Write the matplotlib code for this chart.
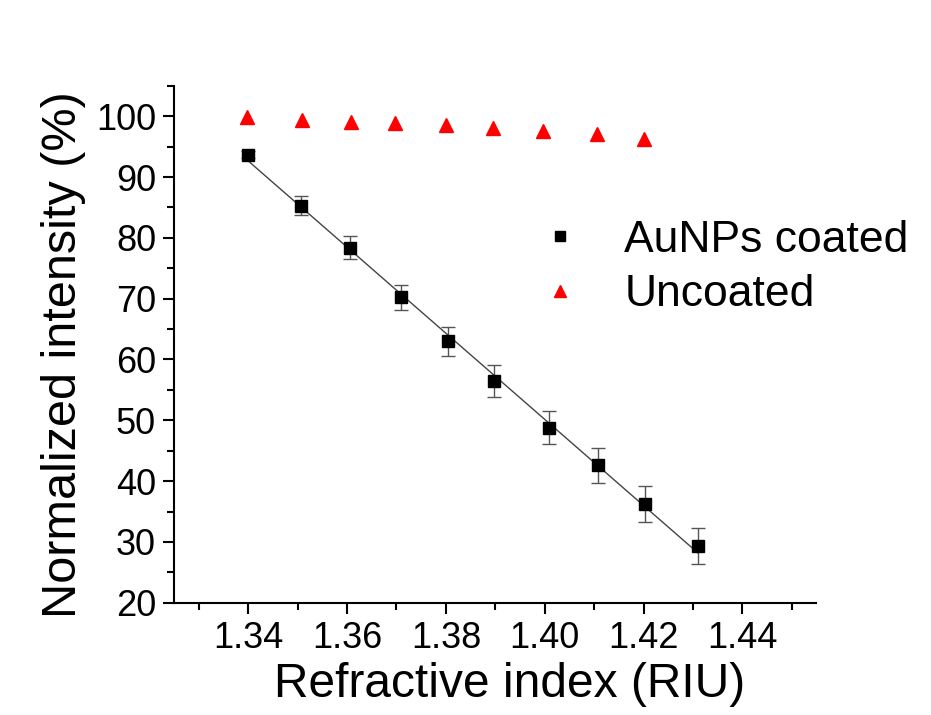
import numpy as np
import matplotlib
matplotlib.use("Agg")
import matplotlib.pyplot as plt
from matplotlib.ticker import MultipleLocator, FormatStrFormatter

plt.rcParams['font.family'] = ['Liberation Sans', 'DejaVu Sans']

# AuNPs coated fibre
ri_coated = [1.3400, 1.3507, 1.3605, 1.3710, 1.3804, 1.3898, 1.4009, 1.4107, 1.4203, 1.4310]
int_coated = [93.7, 85.3, 78.4, 70.2, 63.0, 56.5, 48.8, 42.6, 36.2, 29.3]
err_coated = [0.5, 1.5, 1.9, 2.1, 2.4, 2.6, 2.7, 2.9, 3.0, 3.0]

# uncoated fibre
ri_uncoated = [1.3398, 1.3508, 1.3609, 1.3697, 1.3800, 1.3896, 1.3996, 1.4106, 1.4200]
int_uncoated = [99.8, 99.4, 99.1, 98.9, 98.5, 98.1, 97.6, 97.0, 96.2]

fig = plt.figure(figsize=(9.31, 7.15), dpi=100)
ax = fig.add_axes([0.187, 0.157, 0.690, 0.723])

# linear fit through the coated points
slope, intercept = np.polyfit(ri_coated, int_coated, 1)
xfit = np.array([min(ri_coated), max(ri_coated)])
ax.plot(xfit, slope * xfit + intercept, color='#444444', lw=1.0, zorder=2)

ax.errorbar(ri_coated, int_coated, yerr=err_coated, fmt='none', ecolor='#555555',
            elinewidth=1.0, capsize=5, capthick=1.0, zorder=3)
ax.plot(ri_coated, int_coated, 's', color='black', ms=8.5, label='AuNPs coated', zorder=4)
ax.plot(ri_uncoated, int_uncoated, '^', color='red', ms=10, mec='red', label='Uncoated', zorder=4)

ax.set_xlim(1.325, 1.455)
ax.set_ylim(20, 105)
ax.xaxis.set_major_locator(MultipleLocator(0.02))
ax.xaxis.set_minor_locator(MultipleLocator(0.01))
ax.xaxis.set_major_formatter(FormatStrFormatter('%.2f'))
ax.yaxis.set_major_locator(MultipleLocator(10))
ax.yaxis.set_minor_locator(MultipleLocator(5))

for side in ['top', 'right']:
    ax.spines[side].set_visible(False)
for side in ['left', 'bottom']:
    ax.spines[side].set_linewidth(1.5)

ax.tick_params(which='major', direction='out', length=8, width=1.5, labelsize=26, pad=5)
ax.tick_params(which='minor', direction='out', length=5, width=1.5)

ax.set_xlabel('Refractive index (RIU)', fontsize=34.5)
ax.set_ylabel('Normalized intensity (%)', fontsize=35)
ax.xaxis.set_label_coords(0.523, -0.115)
ax.yaxis.set_label_coords(-0.137, 0.48)

ax.legend(loc='upper left', bbox_to_anchor=(0.538, 0.775), frameon=False, fontsize=32,
          handlelength=1.0, handletextpad=0.95, labelspacing=0.3, borderaxespad=0,
          markerscale=0.8)

fig.savefig('out.png', dpi=100, facecolor='white')
